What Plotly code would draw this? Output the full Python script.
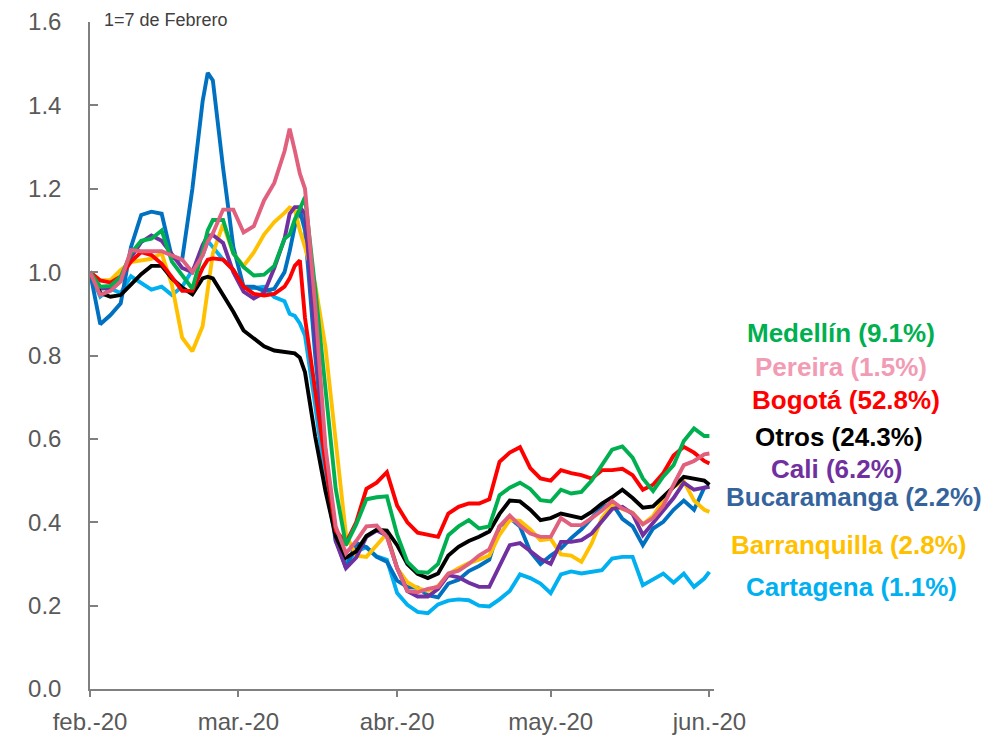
import pandas as pd
import plotly.graph_objects as go

# day offsets from 7 Feb 2020 (1 = 7 de Febrero)
days = [0, 2, 4, 6, 8, 10, 12, 14, 16, 18, 20, 22, 23, 24, 26, 28, 30, 32, 34, 36, 38, 39, 40, 41, 42,
        44, 46, 48, 50, 52, 54, 56, 58, 60, 62, 64, 66, 68, 70, 72, 74, 76, 78, 80, 82, 84, 86, 88, 90,
        92, 94, 96, 98, 100, 102, 104, 106, 108, 110, 112, 114, 116, 118, 120, 121]

medellin = [1.00, 0.965, 0.967, 0.989, 1.045, 1.075, 1.08, 1.10, 1.025, 0.992, 0.96, 1.05, 1.10, 1.125, 1.125,
            1.045, 1.012, 0.992, 0.994, 1.015, 1.08, 1.09, 1.126, 1.152, 1.18,
            0.96, 0.73, 0.48, 0.345, 0.395, 0.455, 0.46, 0.462, 0.37, 0.305, 0.281, 0.279, 0.30, 0.369, 0.39,
            0.405, 0.385, 0.39, 0.465, 0.483, 0.495, 0.48, 0.453, 0.45, 0.478, 0.469, 0.473, 0.50, 0.538,
            0.574, 0.582, 0.555, 0.505, 0.475, 0.51, 0.537, 0.595, 0.625, 0.607, 0.607]
pereira = [1.00, 0.945, 0.955, 0.978, 1.053, 1.05, 1.05, 1.05, 1.04, 1.03, 1.0, 1.04, 1.073, 1.093, 1.15,
           1.15, 1.095, 1.11, 1.172, 1.214, 1.29, 1.344, 1.292, 1.236, 1.20,
           0.92, 0.58, 0.39, 0.325, 0.355, 0.39, 0.392, 0.365, 0.29, 0.235, 0.232, 0.24, 0.245, 0.277, 0.284,
           0.30, 0.32, 0.335, 0.39, 0.416, 0.392, 0.373, 0.365, 0.365, 0.41, 0.393, 0.393, 0.41, 0.428,
           0.451, 0.433, 0.422, 0.395, 0.41, 0.44, 0.49, 0.537, 0.547, 0.563, 0.565]
bogota = [1.00, 0.98, 0.975, 0.99, 1.025, 1.048, 1.041, 1.02, 0.988, 0.955, 0.955, 1.01, 1.03, 1.033, 1.03,
          1.005, 0.965, 0.948, 0.944, 0.948, 0.965, 0.985, 1.015, 1.028, 0.89,
          0.71, 0.54, 0.38, 0.35, 0.40, 0.48, 0.495, 0.52, 0.44, 0.40, 0.375, 0.369, 0.365, 0.421, 0.437,
          0.445, 0.445, 0.455, 0.545, 0.567, 0.58, 0.53, 0.505, 0.50, 0.525, 0.518, 0.513, 0.505, 0.525,
          0.525, 0.528, 0.513, 0.478, 0.49, 0.518, 0.56, 0.581, 0.567, 0.547, 0.541]
otros = [1.00, 0.95, 0.941, 0.945, 0.97, 0.995, 1.015, 1.015, 0.985, 0.963, 0.947, 0.985, 0.989, 0.985, 0.945,
         0.905, 0.86, 0.84, 0.822, 0.812, 0.809, 0.807, 0.805, 0.795, 0.76,
         0.605, 0.475, 0.366, 0.315, 0.33, 0.367, 0.382, 0.38, 0.345, 0.30, 0.276, 0.266, 0.277, 0.32, 0.341,
         0.355, 0.365, 0.378, 0.42, 0.452, 0.45, 0.43, 0.405, 0.41, 0.421, 0.415, 0.41, 0.425, 0.445,
         0.46, 0.478, 0.458, 0.435, 0.438, 0.46, 0.485, 0.509, 0.505, 0.50, 0.49]
cali = [1.00, 0.96, 0.962, 0.981, 1.035, 1.072, 1.088, 1.075, 1.043, 1.01, 1.0, 1.065, 1.087, 1.089, 1.07,
        1.00, 0.953, 0.937, 0.95, 1.01, 1.08, 1.14, 1.156, 1.156, 1.14,
        0.84, 0.57, 0.355, 0.29, 0.315, 0.365, 0.38, 0.368, 0.29, 0.235, 0.222, 0.222, 0.24, 0.273, 0.268,
        0.255, 0.245, 0.245, 0.295, 0.345, 0.35, 0.33, 0.312, 0.30, 0.353, 0.353, 0.357, 0.373, 0.401,
        0.432, 0.437, 0.42, 0.369, 0.398, 0.43, 0.458, 0.495, 0.478, 0.483, 0.485]
bucaramanga = [1.00, 0.875, 0.897, 0.925, 1.06, 1.137, 1.145, 1.14, 1.035, 1.03, 1.20, 1.41, 1.478, 1.46, 1.25,
               1.06, 0.965, 0.965, 0.955, 0.96, 1.00, 1.05, 1.11, 1.148, 1.10,
               0.80, 0.55, 0.36, 0.29, 0.35, 0.34, 0.317, 0.305, 0.26, 0.245, 0.243, 0.225, 0.22, 0.253, 0.262,
               0.283, 0.295, 0.31, 0.39, 0.41, 0.39, 0.33, 0.30, 0.32, 0.337, 0.362, 0.383, 0.41, 0.436,
               0.445, 0.408, 0.39, 0.345, 0.385, 0.401, 0.43, 0.452, 0.43, 0.483, 0.485]
barranquilla = [1.00, 0.98, 0.981, 1.005, 1.024, 1.027, 1.032, 1.045, 0.97, 0.843, 0.81, 0.87, 0.965, 1.045, 1.115,
                1.045, 1.015, 1.047, 1.09, 1.12, 1.142, 1.155, 1.15, 1.10, 1.06,
                0.97, 0.82, 0.60, 0.37, 0.32, 0.317, 0.345, 0.373, 0.29, 0.256, 0.242, 0.235, 0.247, 0.275, 0.29,
                0.302, 0.31, 0.32, 0.37, 0.405, 0.403, 0.383, 0.357, 0.36, 0.323, 0.32, 0.305, 0.349, 0.41,
                0.44, 0.432, 0.423, 0.395, 0.415, 0.453, 0.485, 0.498, 0.452, 0.43, 0.425]
cartagena = [1.00, 0.941, 0.96, 0.95, 0.99, 0.975, 0.958, 0.965, 0.945, 0.965, 1.005, 1.04, 1.075, 1.06, 1.03,
             1.006, 0.962, 0.962, 0.965, 0.94, 0.93, 0.90, 0.895, 0.877, 0.848,
             0.68, 0.50, 0.355, 0.30, 0.33, 0.34, 0.318, 0.31, 0.23, 0.202, 0.185, 0.182, 0.203, 0.212, 0.215,
             0.213, 0.20, 0.198, 0.215, 0.235, 0.275, 0.266, 0.253, 0.23, 0.275, 0.282, 0.277, 0.28, 0.285,
             0.313, 0.317, 0.317, 0.249, 0.263, 0.277, 0.255, 0.277, 0.245, 0.265, 0.281]

tick_labels = ["feb.-20", "mar.-20", "abr.-20", "may.-20", "jun.-20"]
tick_dates = ["2020-02-07", "2020-03-07", "2020-04-07", "2020-05-07", "2020-06-07"]

labels = ["Medellín (9.1%)", "Pereira (1.5%)", "Bogotá (52.8%)", "Otros (24.3%)", "Cali (6.2%)",
          "Bucaramanga (2.2%)", "Barranquilla (2.8%)", "Cartagena (1.1%)"]

base = pd.Timestamp("2020-02-07")
x = [base + pd.Timedelta(days=d) for d in days]

series = [  # (name, values, line colour), drawing order
    ("Cartagena", cartagena, "#00B0F0"),
    ("Bucaramanga", bucaramanga, "#0070C0"),
    ("Barranquilla", barranquilla, "#FFC000"),
    ("Cali", cali, "#7030A0"),
    ("Otros", otros, "#000000"),
    ("Bogotá", bogota, "#FF0000"),
    ("Medellín", medellin, "#00B050"),
    ("Pereira", pereira, "#E0607E"),
]

fig = go.Figure()
for name, vals, col in series:
    fig.add_trace(go.Scatter(x=x, y=vals, mode="lines", name=name,
                             line=dict(color=col, width=3.9), showlegend=False))

FONT = "Arial, 'Liberation Sans', sans-serif"
L, R, T, B = 90, 272, 22, 48
W, H = 986, 737
pw, ph = W - L - R, H - T - B


def px(xp):
    return (xp - L) / pw


def py(yp):
    return (H - B - yp) / ph


label_pos = [(841, 333, "#00B050"), (841, 367, "#F29BB4"), (846, 400, "#FF0000"), (839, 437, "#000000"),
             (837, 469, "#7030A0"), (854, 497, "#35649C"), (849, 545, "#FFC000"), (851, 587, "#00B0F0")]
for text, (xp, yp, col) in zip(labels, label_pos):
    fig.add_annotation(x=px(xp), y=py(yp), xref="paper", yref="paper", text=f"<b>{text}</b>",
                       showarrow=False, xanchor="center", yanchor="middle",
                       font=dict(family=FONT, size=26, color=col))

fig.add_annotation(x=px(102), y=py(20), xref="paper", yref="paper", text="1=7 de Febrero",
                   showarrow=False, xanchor="left", yanchor="middle",
                   font=dict(family=FONT, size=18, color="#404040"))

fig.update_layout(
    width=W, height=H, margin=dict(l=L, r=R, t=T, b=B, autoexpand=False),
    paper_bgcolor="white", plot_bgcolor="white",
    font=dict(family=FONT, size=24, color="#595959"),
)
fig.update_xaxes(
    range=[base, base + pd.Timedelta(days=121.9)], automargin=False,
    tickvals=[pd.Timestamp(d) for d in tick_dates], ticktext=tick_labels,
    showgrid=False, zeroline=False, showline=True, linecolor="#808080", linewidth=1.5,
    ticks="outside", ticklen=6, tickcolor="#808080", tickwidth=1.5, ticklabelstandoff=4,
    tickfont=dict(family=FONT, size=24, color="#595959"),
)
fig.update_yaxes(
    range=[0, 1.6], dtick=0.2, tick0=0, tickformat=".1f", automargin=False,
    showgrid=False, zeroline=False, showline=True, linecolor="#808080", linewidth=1.5,
    ticks="inside", ticklen=8, tickcolor="#808080", tickwidth=1.5, ticklabelstandoff=22,
    tickfont=dict(family=FONT, size=24, color="#595959"),
)

fig.write_html("out.html", config={"displayModeBar": False},
               post_script="document.body.style.margin='0px';")
